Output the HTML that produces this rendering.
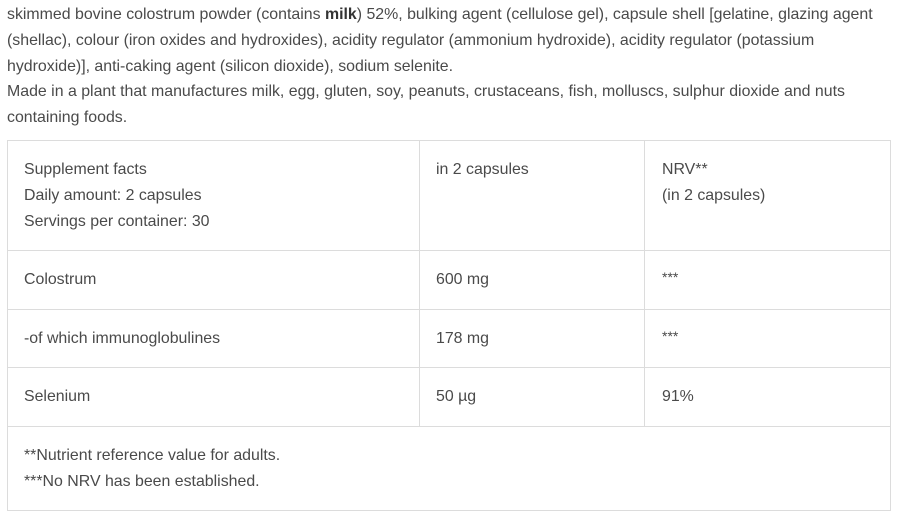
<!DOCTYPE html>
<html><head><style>
body{margin:0;width:906px;height:528px;background:#fff;font-family:"Liberation Sans",Arial,sans-serif;font-size:15.9px;color:#4a4a4a;position:relative;overflow:hidden}
.t{position:absolute;white-space:nowrap;line-height:25.8px}
.h{position:absolute;background:#dcdcdc;height:1px}
.v{position:absolute;background:#dcdcdc;width:1px}
b{color:#333}
</style></head><body>
<div class="t" style="left:7px;top:2px">skimmed bovine colostrum powder (contains <b>milk</b>) 52%, bulking agent (cellulose gel), capsule shell [gelatine, glazing agent<br>(shellac), colour (iron oxides and hydroxides), acidity regulator (ammonium hydroxide), acidity regulator (potassium<br>hydroxide)], anti-caking agent (silicon dioxide), sodium selenite.<br>Made in a plant that manufactures milk, egg, gluten, soy, peanuts, crustaceans, fish, molluscs, sulphur dioxide and nuts<br>containing foods.</div>
<div class="h" style="left:7px;width:884px;top:140px"></div>
<div class="h" style="left:7px;width:884px;top:250px"></div>
<div class="h" style="left:7px;width:884px;top:309px"></div>
<div class="h" style="left:7px;width:884px;top:367px"></div>
<div class="h" style="left:7px;width:884px;top:426px"></div>
<div class="h" style="left:7px;width:884px;top:510px"></div>
<div class="v" style="left:7px;top:140px;height:371px"></div>
<div class="v" style="left:890px;top:140px;height:371px"></div>
<div class="v" style="left:419px;top:140px;height:287px"></div>
<div class="v" style="left:644px;top:140px;height:287px"></div>
<div class="t" style="left:24px;top:157px">Supplement facts<br>Daily amount: 2 capsules<br>Servings per container: 30</div>
<div class="t" style="left:436px;top:157px">in 2 capsules</div>
<div class="t" style="left:662px;top:157px">NRV**<br>(in 2 capsules)</div>
<div class="t" style="left:24px;top:267px">Colostrum</div>
<div class="t" style="left:436px;top:267px">600 mg</div>
<div class="t" style="left:662px;top:265px;font-size:14px">***</div>
<div class="t" style="left:24px;top:326px">-of which immunoglobulines</div>
<div class="t" style="left:436px;top:326px">178 mg</div>
<div class="t" style="left:662px;top:324px;font-size:14px">***</div>
<div class="t" style="left:24px;top:384px">Selenium</div>
<div class="t" style="left:436px;top:384px">50 µg</div>
<div class="t" style="left:662px;top:384px">91%</div>
<div class="t" style="left:24px;top:443px">**Nutrient reference value for adults.<br>***No NRV has been established.</div>
</body></html>
